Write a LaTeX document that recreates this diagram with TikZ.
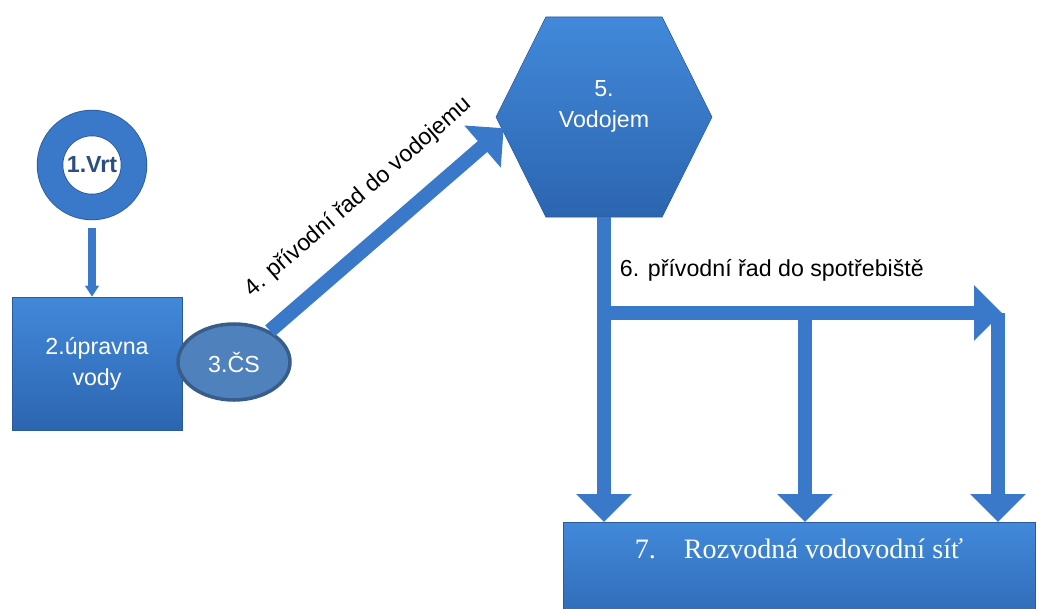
\documentclass[tikz,border=0pt]{standalone}
\usepackage{fontspec}
\setmainfont{Liberation Sans}
\newfontfamily\romanface{Liberation Serif}
\usetikzlibrary{positioning,shapes.geometric,shapes.symbols,arrows.meta}

\definecolor{pipeblue}{HTML}{3A79C9}
\definecolor{boxtop}{HTML}{4289DA}
\definecolor{boxbot}{HTML}{2C65B0}
\definecolor{edgeblue}{HTML}{2B5A96}
\definecolor{csfill}{HTML}{4F81BD}
\definecolor{csline}{HTML}{385D8A}
\definecolor{vrttext}{HTML}{2C4E7E}

\begin{document}
\begin{tikzpicture}[
    every node/.style={font=\fontsize{16.5}{22}\selectfont},
    bluebox/.style={rectangle,draw=edgeblue,thin,top color=boxtop,bottom color=boxbot,text=white,align=center,inner sep=0pt},
    ringnode/.style={circle,draw=edgeblue,line width=0.6pt,double=pipeblue,double distance=0.62cm,minimum size=2.1cm,inner sep=0pt,outer sep=0.33cm,text=vrttext,font=\fontsize{16.5}{22}\selectfont\bfseries},
    csnode/.style={ellipse,draw=csline,line width=2.5pt,fill=csfill,text=white,minimum width=2.8cm,minimum height=1.9cm,inner sep=0pt},
    hexnode/.style={signal,signal to=west and east,signal pointer angle=127,draw=edgeblue,thin,top color=boxtop,bottom color=boxbot,text=white,align=center,minimum width=5.4cm,minimum height=5cm,inner sep=0pt,text depth=0.65cm},
    pipe/.style={line width=0.36cm,pipeblue,-{Triangle[width=1.35cm,length=0.7cm]}},
    thinpipe/.style={line width=0.18cm,pipeblue,-{Triangle[width=0.34cm,length=0.28cm]}},
    textbox/.style={text=black}
]
\useasboundingbox (0,0) rectangle (25.925,15.2);

\node[ringnode] (vrt) at (2.30,11.075) {1.Vrt};
\node[bluebox,minimum width=4.25cm,minimum height=3.325cm] (upr) at (2.425,6.1125) {2.úpravna\\vody};
\node[csnode] (csta) at (5.85,6.15) {3.ČS};
\node[hexnode] (vodojem) at (15.1,12.275) {5.\\Vodojem};
\node[bluebox,anchor=north,minimum width=11.8cm,inner ysep=0.35cm,text height=0.55cm,text depth=1.65cm] (sit) at (19.975,2.15)
    {\romanface\fontsize{20}{24}\selectfont 7.\hspace{0.7cm}Rozvodná vodovodní síť};
\node[textbox,anchor=west] (lbl6) at (15.375,8.45) {6. přívodní řad do spotřebiště};

\coordinate (tee) at (vodojem.south |- 0,7.375);
\coordinate (hend) at (25.05,7.375);
\coordinate (midtap) at (20.125,7.375);
\coordinate (endtap) at (24.95,7.375);

\path[thinpipe]
    (vrt) edge[shorten <=0.2cm] (vrt.south |- upr.north);

\path[pipe]
    (csta) edge node[textbox,sloped,above=0.5cm] {4. přívodní řad do vodojemu} ([shift={(0.2,-0.28)}]vodojem.west)
    (vodojem.south) edge (vodojem.south |- sit.north)
    (midtap) edge (midtap |- sit.north)
    (endtap) edge (endtap |- sit.north)
    ([xshift=-0.18cm]tee) edge (hend);
\end{tikzpicture}
\end{document}
